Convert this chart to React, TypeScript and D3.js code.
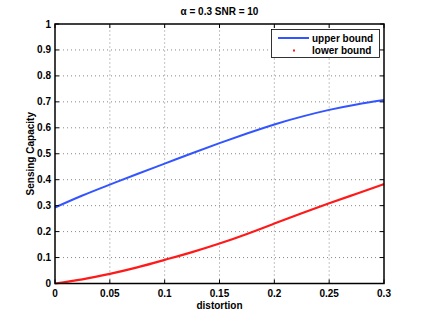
import React from 'react';
import * as d3 from 'd3';

const distortion = [0, 0.025, 0.05, 0.075, 0.1, 0.125, 0.15, 0.175, 0.2, 0.225, 0.25, 0.275, 0.3];
const upperBound = [0.293, 0.339, 0.381, 0.422, 0.462, 0.502, 0.541, 0.578, 0.613, 0.643, 0.669, 0.69, 0.707];
const lowerBound = [0, 0.016, 0.037, 0.062, 0.091, 0.121, 0.154, 0.191, 0.231, 0.271, 0.309, 0.346, 0.383];
const xTicks = [0, 0.05, 0.1, 0.15, 0.2, 0.25, 0.3];
const yTicks = [0, 0.1, 0.2, 0.3, 0.4, 0.5, 0.6, 0.7, 0.8, 0.9, 1];
const legendLabels = ['upper bound', 'lower bound'];

const W = 424;
const H = 319;
const margin = { left: 55, right: 40, top: 24, bottom: 35.5 };
const font = '"Liberation Sans", Arial, Helvetica, sans-serif';
const fs = 10;

export default function App() {
  const x = d3.scaleLinear().domain([0, 0.3]).range([margin.left, W - margin.right]);
  const y = d3.scaleLinear().domain([0, 1]).range([H - margin.bottom, margin.top]);

  const line = d3.line<number>()
    .x((d, i) => x(distortion[i]))
    .y(d => y(d))
    .curve(d3.curveNatural);

  const x0 = x(0), x1 = x(0.3), y0 = y(0), y1 = y(1);
  const tick = 4;

  return (
    <div style={{ position: 'absolute', left: 0, top: 0 }}>
      <svg width={W} height={H} style={{ display: 'block', background: '#fff' }} fontFamily={font}>
        {/* grid */}
        {xTicks.slice(1, -1).map(t => (
          <line key={'gx' + t} x1={x(t)} x2={x(t)} y1={y0} y2={y1}
            stroke="#888" strokeWidth={1} strokeDasharray="1,3" />
        ))}
        {yTicks.slice(1, -1).map(t => (
          <line key={'gy' + t} x1={x0} x2={x1} y1={y(t)} y2={y(t)}
            stroke="#888" strokeWidth={1} strokeDasharray="1,3" />
        ))}

        {/* curves */}
        <path d={line(upperBound) || ''} fill="none" stroke="#3355ff" strokeWidth={2} />
        <path d={line(lowerBound) || ''} fill="none" stroke="#ff1a1a" strokeWidth={2.2} />

        {/* ticks, inward on all sides */}
        {xTicks.map(t => (
          <g key={'tx' + t}>
            <line x1={x(t)} x2={x(t)} y1={y0} y2={y0 - tick} stroke="#000" />
            <line x1={x(t)} x2={x(t)} y1={y1} y2={y1 + tick} stroke="#000" />
            <text x={x(t)} y={y0 + 13.5} textAnchor="middle" fontSize={fs} fontWeight="bold">{String(t)}</text>
          </g>
        ))}
        {yTicks.map(t => (
          <g key={'ty' + t}>
            <line x1={x0} x2={x0 + tick} y1={y(t)} y2={y(t)} stroke="#000" />
            <line x1={x1} x2={x1 - tick} y1={y(t)} y2={y(t)} stroke="#000" />
            <text x={x0 - 4} y={y(t) + 3.5} textAnchor="end" fontSize={fs} fontWeight="bold">{String(t)}</text>
          </g>
        ))}

        {/* frame */}
        <rect x={x0} y={y1} width={x1 - x0} height={y0 - y1} fill="none" stroke="#000" strokeWidth={1.5} />

        {/* labels */}
        <text x={(x0 + x1) / 2} y={15} textAnchor="middle" fontSize={fs} fontWeight="bold">
          {'\u03b1 = 0.3 SNR = 10'}
        </text>
        <text x={(x0 + x1) / 2} y={309} textAnchor="middle" fontSize={fs} fontWeight="bold">distortion</text>
        <text transform={`translate(34,${(y0 + y1) / 2}) rotate(-90)`} textAnchor="middle" fontSize={fs} fontWeight="bold">
          Sensing Capacity
        </text>

        {/* legend */}
        <g>
          <rect x={271.5} y={29.5} width={108} height={28} fill="#fff" stroke="#000" strokeWidth={0.8} />
          <line x1={278} x2={309} y1={38} y2={38} stroke="#3355ff" strokeWidth={2} />
          <rect x={293} y={49.5} width={2} height={2} fill="#ff1a1a" />
          <text x={312} y={41.5} fontSize={fs} fontWeight="bold">{legendLabels[0]}</text>
          <text x={312} y={54} fontSize={fs} fontWeight="bold">{legendLabels[1]}</text>
        </g>
      </svg>
    </div>
  );
}
